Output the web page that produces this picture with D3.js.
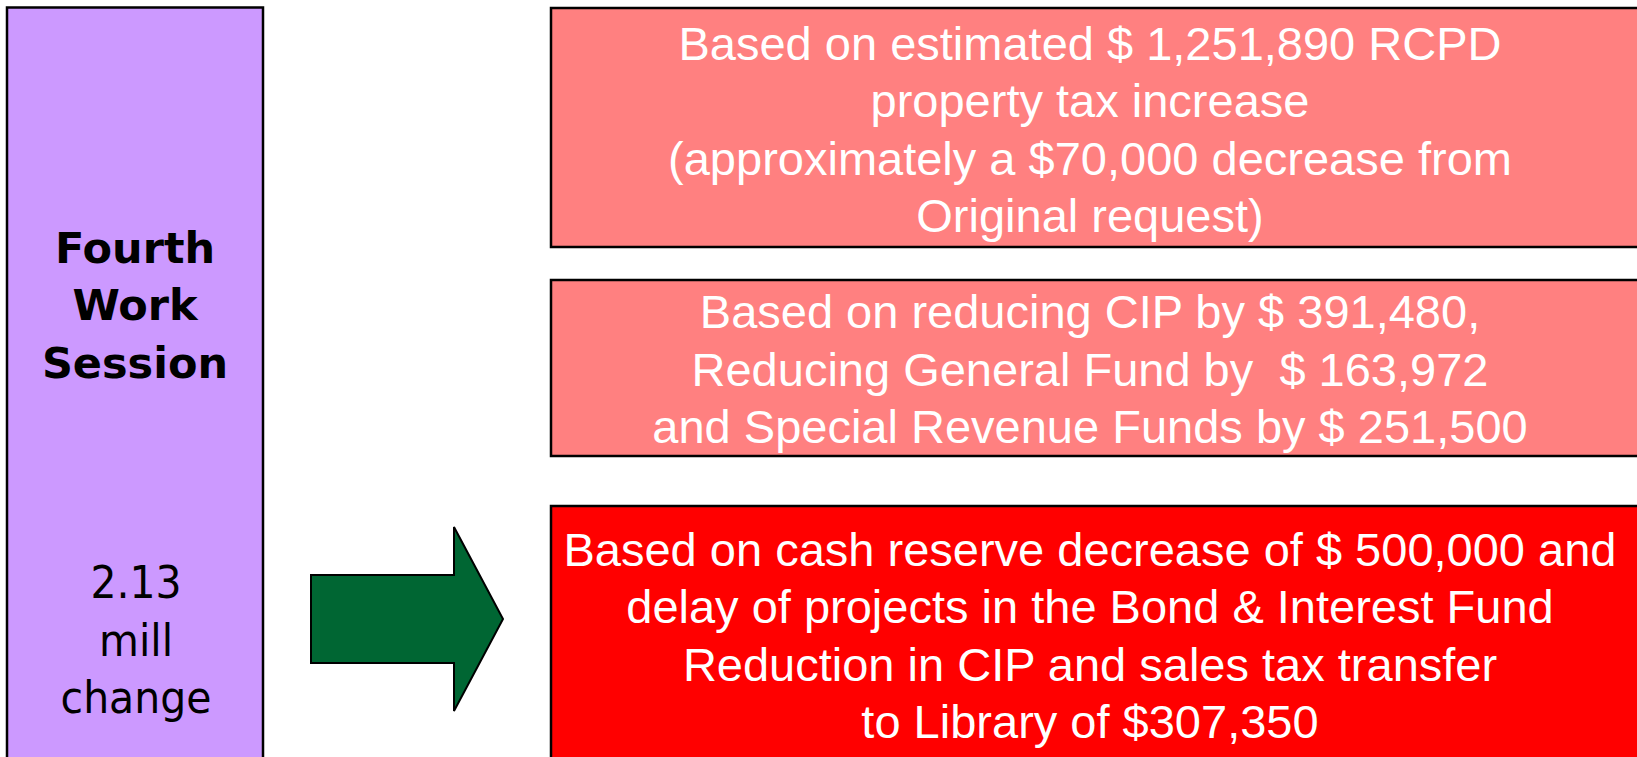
<!DOCTYPE html>
<html>
<head>
<meta charset="utf-8">
<script src="https://cdn.jsdelivr.net/npm/d3@7"></script>
<style>
  body { margin: 0; background: #fff; overflow: hidden; }
</style>
</head>
<body>
<div id="chart"></div>
<script>
(function() {
	// text of the diagram
	var sessionTitle = ["Fourth", "Work", "Session"];
	var millChange = ["2.13", "mill", "change"];
	var scenarioLines = [
		["Based on estimated $ 1,251,890 RCPD",
		 "property tax increase",
		 "(approximately a $70,000 decrease from",
		 "Original request)"],
		["Based on reducing CIP by $ 391,480,",
		 "Reducing General Fund by  $ 163,972",
		 "and Special Revenue Funds by $ 251,500"],
		["Based on cash reserve decrease of $ 500,000 and",
		 "delay of projects in the Bond & Interest Fund",
		 "Reduction in CIP and sales tax transfer",
		 "to Library of $307,350"]
	];

	var width = 1637,
		height = 757;

	// box geometry (pixels)
	var boxes = [
		{ top: 8, bottom: 247, firstLine: 60, step: 57.3, fill: "#FF8080" },
		{ top: 280, bottom: 456, firstLine: 328, step: 57.5, fill: "#FF8080" },
		{ top: 506, bottom: 800, firstLine: 566, step: 57.3, fill: "#FF0000" }
	];
	var boxLeft = 551, boxRight = 1700, textCenter = 1090;

	var svg = d3.select("#chart")
				.append("svg")
				.attr("width", width)
				.attr("height", height);

	// left purple column
	svg.append("rect")
		.attr("x", 7)
		.attr("y", 7.5)
		.attr("width", 256)
		.attr("height", 800)
		.attr("fill", "#CC99FF")
		.attr("stroke", "#000")
		.attr("stroke-width", 2.5);

	svg.selectAll("text.title")
		.data(sessionTitle)
		.enter()
		.append("text")
		.attr("class", "title")
		.attr("transform", function(d, i) { return "translate(135," + (262.5 + i * 57.5) + ")"; })
		.attr("text-anchor", "middle")
		.attr("font-family", "DejaVu Sans")
		.attr("font-weight", "bold")
		.attr("font-size", 43)
		.attr("fill", "#000")
		.text(function(d) { return d; });

	// tahoma-ish: a bit taller than DejaVu at the same width
	svg.selectAll("text.mill")
		.data(millChange)
		.enter()
		.append("text")
		.attr("class", "mill")
		.attr("transform", function(d, i) { return "translate(136," + (598 + i * 57.5) + ") scale(1,1.1)"; })
		.attr("text-anchor", "middle")
		.attr("font-family", "DejaVu Sans")
		.attr("font-size", 41)
		.attr("fill", "#000")
		.text(function(d) { return d; });

	// green arrow
	var arrow = [[311, 575], [454, 575], [454, 527], [503, 619], [454, 711], [454, 663], [311, 663]];
	svg.append("path")
		.attr("d", d3.line()(arrow) + "Z")
		.attr("fill", "#006633")
		.attr("stroke", "#000")
		.attr("stroke-width", 2);

	// scenario boxes
	var groups = svg.selectAll("g.box")
		.data(boxes)
		.enter()
		.append("g")
		.attr("class", "box");

	groups.append("rect")
		.attr("x", boxLeft)
		.attr("y", function(d) { return d.top; })
		.attr("width", boxRight - boxLeft)
		.attr("height", function(d) { return d.bottom - d.top; })
		.attr("fill", function(d) { return d.fill; })
		.attr("stroke", "#000")
		.attr("stroke-width", 2.5);

	groups.each(function(b, k) {
		d3.select(this).selectAll("text")
			.data(scenarioLines[k])
			.enter()
			.append("text")
			.attr("x", textCenter)
			.attr("y", function(d, i) { return b.firstLine + i * b.step; })
			.attr("text-anchor", "middle")
			.attr("font-family", "Liberation Sans")
			.attr("font-size", 47)
			.attr("fill", "#fff")
			.attr("xml:space", "preserve")
			.text(function(d) { return d; });
	});
})();
</script>
</body>
</html>
